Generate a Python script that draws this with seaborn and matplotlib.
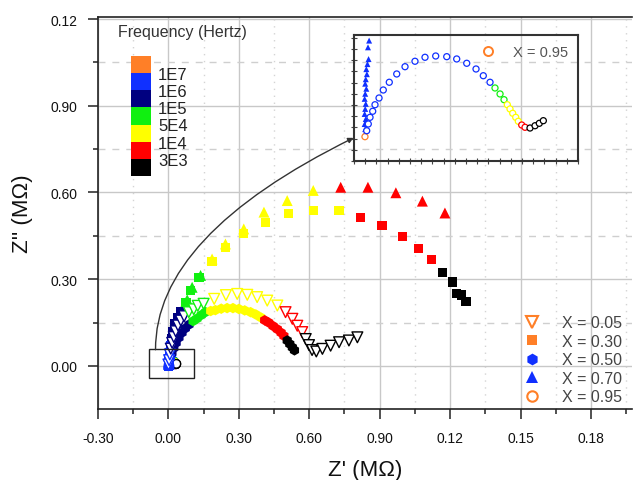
import numpy as np
import pandas as pd
import matplotlib
matplotlib.use("Agg")
import matplotlib.pyplot as plt
import seaborn as sns
from matplotlib.path import Path
from matplotlib.patches import FancyArrowPatch, Rectangle
from matplotlib.lines import Line2D
from matplotlib.ticker import MultipleLocator
import matplotlib.transforms as mtransforms

# ---------------- data ----------------
band_colors = {'o': '#FF7F27', 'b': '#1030FF', 'n': '#000080', 'g': '#10F010',
               'y': '#FFFF00', 'r': '#FF0000', 'k': '#000000'}
band_order = ['o', 'b', 'n', 'g', 'y', 'r', 'k']
freq_labels = ['1E7', '1E6', '1E5', '5E4', '1E4', '3E3']

re_005 = [0.000, 0.003, 0.006, 0.010, 0.016, 0.023, 0.031, 0.041, 0.053, 0.067,
          0.087, 0.108, 0.125, 0.150,
          0.195, 0.245, 0.293, 0.336, 0.378, 0.421, 0.464,
          0.499, 0.528, 0.549, 0.570,
          0.585, 0.599, 0.612, 0.630, 0.656, 0.691, 0.727, 0.769, 0.805]
im_005 = [0.005, 0.020, 0.040, 0.060, 0.080, 0.100, 0.120, 0.140, 0.157, 0.172,
          0.186, 0.196, 0.208, 0.215,
          0.232, 0.245, 0.249, 0.246, 0.238, 0.226, 0.209,
          0.186, 0.163, 0.139, 0.117,
          0.093, 0.072, 0.055, 0.050, 0.059, 0.070, 0.082, 0.088, 0.099]
band_005 = list("bbb" + "nnnnnnn" + "gggg" + "yyyyyyy" + "rrrr" + "kkkkkkkkk")

re_030 = [0.000, 0.002, 0.005, 0.009,
          0.013, 0.019, 0.027, 0.038, 0.054,
          0.075, 0.095, 0.130,
          0.186, 0.243, 0.321, 0.414, 0.513, 0.617, 0.727,
          0.819, 0.910, 0.997, 1.065, 1.122,
          1.168, 1.210, 1.228, 1.250, 1.268]
im_030 = [0.000, 0.020, 0.045, 0.070,
          0.095, 0.120, 0.145, 0.168, 0.188,
          0.220, 0.262, 0.305,
          0.360, 0.410, 0.457, 0.497, 0.526, 0.537, 0.537,
          0.514, 0.487, 0.447, 0.407, 0.368,
          0.322, 0.290, 0.250, 0.245, 0.222]
band_030 = list("bbbb" + "nnnnn" + "ggg" + "yyyyyyy" + "rrrrr" + "kkkkk")

re_050 = [0.000, 0.004, 0.009,
          0.015, 0.023, 0.033, 0.045, 0.058, 0.072, 0.088,
          0.105, 0.122, 0.140, 0.158,
          0.180, 0.200, 0.225, 0.250, 0.275, 0.300, 0.325, 0.350, 0.372, 0.393,
          0.410, 0.427, 0.446, 0.464, 0.480, 0.492,
          0.506, 0.517, 0.528, 0.537]
im_050 = [0.000, 0.015, 0.030,
          0.045, 0.062, 0.080, 0.098, 0.115, 0.130, 0.143,
          0.155, 0.164, 0.176, 0.186,
          0.190, 0.193, 0.198, 0.200, 0.200, 0.197, 0.192, 0.186, 0.178, 0.168,
          0.158, 0.150, 0.138, 0.127, 0.115, 0.104,
          0.088, 0.076, 0.064, 0.054]
band_050 = list("bbb" + "nnnnnnn" + "gggg" + "yyyyyyyyyy" + "rrrrrr" + "kkkk")

re_070 = [0.0019, 0.0020, 0.0019, 0.0021, 0.0019, 0.0020, 0.0021, 0.0019, 0.0020,
          0.0022, 0.0020, 0.0021, 0.0023, 0.0022, 0.0024, 0.0026, 0.0025, 0.0027,
          0.003, 0.005, 0.008, 0.012,
          0.017, 0.024, 0.033, 0.042, 0.051,
          0.080, 0.101, 0.137,
          0.186, 0.243, 0.321, 0.407, 0.506, 0.617,
          0.734, 0.850, 0.969, 1.082, 1.178]
im_070 = [0.0048, 0.0057, 0.0066, 0.0075, 0.0084, 0.0093, 0.0102, 0.0111, 0.0120,
          0.0129, 0.0138, 0.0146, 0.0155, 0.0164, 0.0173, 0.0182, 0.0203, 0.0215,
          0.035, 0.055, 0.075, 0.095,
          0.115, 0.135, 0.155, 0.172, 0.187,
          0.229, 0.272, 0.313,
          0.370, 0.422, 0.474, 0.532, 0.572, 0.607,
          0.618, 0.618, 0.599, 0.570, 0.529]
band_070 = list("b" * 22 + "nnnnn" + "ggg" + "yyyyyy" + "rrrrr")

re_095 = [0.00196, 0.00227, 0.00255, 0.00286, 0.00334, 0.00375, 0.00447, 0.00523,
          0.00630, 0.00763, 0.00911, 0.01089, 0.01268, 0.01459, 0.01656, 0.01834,
          0.02013, 0.02179, 0.02309, 0.02429, 0.02518, 0.02608, 0.02679, 0.02738,
          0.02786, 0.02834, 0.02888, 0.02934, 0.02995, 0.03054, 0.03143, 0.03233,
          0.03309, 0.03381]
im_095 = [0.00434, 0.00541, 0.00661, 0.00780, 0.00888, 0.01005, 0.01125, 0.01268,
          0.01406, 0.01554, 0.01684, 0.01781, 0.01852, 0.01875, 0.01863, 0.01822,
          0.01745, 0.01643, 0.01523, 0.01406, 0.01304, 0.01197, 0.01095, 0.01005,
          0.00929, 0.00852, 0.00780, 0.00709, 0.00643, 0.00602, 0.00589, 0.00630,
          0.00673, 0.00720]
band_095 = list("o" + "b" * 19 + "ggg" + "yyyyy" + "rr" + "kkkk")

series_names = ['X = 0.05', 'X = 0.30', 'X = 0.50', 'X = 0.70', 'X = 0.95']

xtick_vals = [-0.30, 0.00, 0.30, 0.60, 0.90, 1.20, 1.50, 1.80]
xtick_labels = ['-0.30', '0.00', '0.30', '0.60', '0.90', '0.12', '0.15', '0.18']
ytick_vals = [0.00, 0.30, 0.60, 0.90, 1.20]
ytick_labels = ['0.00', '0.30', '0.60', '0.90', '0.12']

# ---------------- build table ----------------
frames = []
for name, re, im, bands in zip(series_names,
                               [re_005, re_030, re_050, re_070, re_095],
                               [im_005, im_030, im_050, im_070, im_095],
                               [band_005, band_030, band_050, band_070, band_095]):
    frames.append(pd.DataFrame({'re': re, 'im': im, 'band': bands, 'series': name}))
df = pd.concat(frames, ignore_index=True)

styles = {
    'X = 0.05': dict(marker='v', s=60, hollow=True),
    'X = 0.30': dict(marker='s', s=44, hollow=False),
    'X = 0.50': dict(marker='h', s=58, hollow=False),
    'X = 0.70': dict(marker='^', s=62, hollow=False),
    'X = 0.95': dict(marker='o', s=38, hollow=True),
}

sns.set_theme(style='ticks')
plt.rcParams['font.family'] = ['Liberation Sans', 'DejaVu Sans']

W, H = 638, 481
def px_axes(l, t, r, b):
    return [l / W, 1 - b / H, (r - l) / W, (b - t) / H]

fig = plt.figure(figsize=(W / 100, H / 100), dpi=100)
fig.patch.set_facecolor('white')
ax = fig.add_axes(px_axes(98, 18, 632, 410))
ax.set_facecolor('white')


def draw(axis, name, size_scale=1.0, lw=1.0):
    sub = df[df.series == name]
    st = styles[name]
    sns.scatterplot(data=sub, x='re', y='im', hue='band', palette=band_colors,
                    marker=st['marker'], s=st['s'] * size_scale,
                    linewidth=(lw if st['hollow'] else 0), legend=False,
                    ax=axis, zorder=3)
    if st['hollow']:
        coll = axis.collections[-1]
        fc = coll.get_facecolors()
        coll.set_edgecolors(fc)
        coll.set_facecolors('white')
        coll.set_linewidth(lw)


for name in ['X = 0.95', 'X = 0.30', 'X = 0.70', 'X = 0.50', 'X = 0.05']:
    draw(ax, name)

ax.set_xlim(-0.30, 1.975)
ax.set_ylim(-0.149, 1.207)
ax.set_xticks(xtick_vals)
ax.set_xticklabels(xtick_labels)
ax.set_yticks(ytick_vals)
ax.set_yticklabels(ytick_labels)
ax.xaxis.set_minor_locator(MultipleLocator(0.15))
ax.yaxis.set_minor_locator(MultipleLocator(0.15))
ax.tick_params(which='major', direction='out', length=7, width=1.1, color='#222222',
               labelsize=10, labelcolor='#111111')
ax.tick_params(axis='x', which='major', pad=9)
ax.tick_params(axis='y', which='major', pad=8)
ax.tick_params(which='minor', direction='out', length=3.5, width=1.1, color='#222222')
for sp in ['left', 'bottom', 'top']:
    ax.spines[sp].set_color('#222222')
    ax.spines[sp].set_linewidth(1.2)
ax.spines['right'].set_visible(False)
ax.set_axisbelow(True)
ax.grid(which='major', color='#c8c8c8', lw=1.0, ls='-')
ax.xaxis.grid(which='minor', color='#d4d4d4', lw=1.0, ls=(0, (1, 4)))
ax.yaxis.grid(which='minor', color='#cfcfcf', lw=1.0, ls=(0, (5, 5)))
ax.set_xlabel("Z' (M\u03a9)", fontsize=16, labelpad=10, color='#111111')
ax.set_ylabel("Z'' (M\u03a9)", fontsize=16, labelpad=12, color='#111111')

# zoom box around origin
box_x0, box_y0, box_w, box_h = -0.083, -0.042, 0.194, 0.101
ax.add_patch(Rectangle((box_x0, box_y0), box_w, box_h, fill=False,
                       ec='#222222', lw=1.0, zorder=4))

# connecting curve
p0 = (-0.055, 0.056)
ctrl = (-0.058, 0.450)
p2 = (0.789, 0.789)
conn = FancyArrowPatch(path=Path([p0, ctrl, p2], [Path.MOVETO, Path.CURVE3, Path.CURVE3]),
                       arrowstyle='-|>', mutation_scale=8, color='#333333', lw=1.0,
                       transform=ax.transData, zorder=4)
ax.add_patch(conn)

# main legend
orange = '#FF7F27'
blue = '#1030FF'
handles = [
    Line2D([0], [0], ls='none', marker='v', ms=8, mfc='white', mec=orange, mew=1.5),
    Line2D([0], [0], ls='none', marker='s', ms=7.5, mfc=orange, mec=orange, mew=0),
    Line2D([0], [0], ls='none', marker='h', ms=8.5, mfc=blue, mec=blue, mew=0),
    Line2D([0], [0], ls='none', marker='^', ms=8.5, mfc=blue, mec=blue, mew=0),
    Line2D([0], [0], ls='none', marker='o', ms=7.5, mfc='white', mec=orange, mew=1.5),
]
leg = ax.legend(handles, series_names, loc='lower right', bbox_to_anchor=(0.982, 0.012),
                frameon=False, fontsize=11.5, labelcolor='#444444', handletextpad=1.3,
                labelspacing=0.22, borderaxespad=0, borderpad=0, handlelength=1.2)

# inset
ax_in = fig.add_axes(px_axes(354, 36, 578, 162))
ax_in.set_facecolor('none')
draw(ax_in, 'X = 0.70', size_scale=0.3)
draw(ax_in, 'X = 0.95', size_scale=0.5, lw=0.9)
ax_in.set_xlim(0, 0.04)
ax_in.set_ylim(0, 0.0225)
ax_in.set_xlabel('')
ax_in.set_ylabel('')
ax_in.xaxis.set_major_locator(MultipleLocator(0.002))
ax_in.yaxis.set_major_locator(MultipleLocator(0.002))
ax_in.tick_params(which='major', direction='inout', length=4, width=0.8, color='#444444',
                  labelbottom=False, labelleft=False)
ax_in.grid(False)
for sp in ax_in.spines.values():
    sp.set_color('#333333')
    sp.set_linewidth(1.5)
    sp.set_visible(True)
ax_in.legend([Line2D([0], [0], ls='none', marker='o', ms=6.5, mfc='white', mec=orange, mew=1.4)],
             ['X = 0.95'], loc='upper right', frameon=False, fontsize=10.5,
             labelcolor='#555555', handletextpad=1.2, borderaxespad=0.5, borderpad=0.2,
             handlelength=1.0)

# frequency colour key
cax = fig.add_axes(px_axes(131, 57, 151, 177))
cax.barh(y=np.arange(len(band_order)), width=1, height=1.0,
         color=[band_colors[b] for b in band_order], align='center', linewidth=0,
         edgecolor='none')
cax.set_xlim(0, 1)
cax.set_ylim(len(band_order) - 0.5, -0.5)
cax.axis('off')
trans = mtransforms.blended_transform_factory(cax.transAxes, cax.transData)
for i, lab in enumerate(freq_labels):
    cax.text(1.35, i + 0.58, lab, transform=trans, ha='left', va='center',
             fontsize=12, color='#222222')
fig.text(118 / W, 1 - 33 / H, 'Frequency (Hertz)', ha='left', va='center',
         fontsize=11.5, color='#333333')

fig.savefig('out.png', dpi=100, facecolor='white')
